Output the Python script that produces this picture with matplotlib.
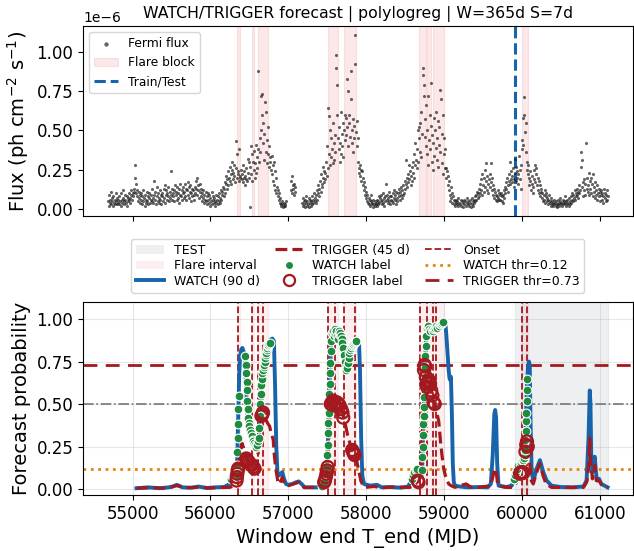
import numpy as np
import matplotlib
matplotlib.use("Agg")
import matplotlib.pyplot as plt
from matplotlib.lines import Line2D
from matplotlib.patches import Patch

# ---- Fermi weekly flux (1e-6 ph cm^-2 s^-1), first bin MJD 54684, 7 d cadence
flux_t0 = 54684
flux_step = 7
nan = np.nan
flux = [
    0.05, 0.02, 0.09, 0.04, 0.06, 0.11, 0.03, 0.07, 0.05, 0.02, 0.08, 0.04, 0.06, 0.03, 0.10, 0.05, 0.07, 0.03, 0.06, 0.04,
    0.08, 0.03, 0.05, 0.10, 0.02, 0.06, 0.04, 0.07, 0.12, 0.05, 0.03, 0.09, 0.06, 0.04, 0.08, 0.02, 0.05, 0.07, 0.10, 0.06,
    0.07, 0.04, 0.09, 0.12, 0.06, 0.10, 0.08, 0.13, 0.11, 0.20, 0.28, 0.16, 0.10, 0.12, 0.08, 0.05, 0.11, 0.07, 0.04, 0.09,
    0.06, 0.10, 0.03, 0.08, 0.05, 0.12, 0.07, 0.02, 0.09, 0.06, 0.04, 0.11, 0.05, 0.08, 0.03, 0.07, 0.10, 0.04, 0.06, 0.09,
    0.05, 0.13, 0.07, 0.04, 0.18, 0.09, 0.06, 0.11, 0.03, 0.08, 0.14, 0.05, 0.10, 0.07, 0.04, 0.12, 0.06, 0.09, 0.03, 0.08,
    0.10, 0.05, 0.13, 0.07, 0.15, 0.04, 0.09, 0.12, 0.06, 0.10, 0.08, 0.14, 0.05, 0.11, 0.07, 0.24, 0.09, 0.13, 0.06, 0.10,
    0.08, 0.12, 0.05, 0.15, 0.09, 0.11, 0.06, 0.14, 0.10, 0.07, 0.13, 0.04, 0.09, 0.16, 0.08, 0.12, 0.06, 0.10, 0.14, 0.07,
    0.11, 0.16, 0.08, 0.13, 0.06, 0.12, 0.17, 0.09, 0.14, 0.07, 0.11, 0.15, 0.05, 0.10, 0.13, 0.08, 0.12, 0.06, 0.09, 0.14,
    0.10, 0.18, 0.13, 0.20, 0.09, 0.15, 0.12, 0.07, 0.11, 0.16, 0.08, 0.13, 0.05, 0.10, 0.07, 0.12, 0.04, 0.09, 0.06, 0.11,
    0.05, 0.08, 0.03, 0.10, 0.06, 0.04, 0.09, 0.02, 0.07, 0.05, 0.11, 0.03, 0.06, 0.08, 0.04, 0.07, 0.02, 0.05, 0.09, 0.04,
    0.06, 0.03, 0.08, 0.05, 0.10, 0.04, 0.07, 0.12, 0.06, 0.09, 0.11, 0.14, 0.08, 0.13, 0.17, 0.10, 0.16, 0.21, 0.13, 0.19,
    0.24, 0.15, 0.20, 0.27, 0.18, 0.22, 0.16, 0.25, 0.30, 0.19, 0.23, 0.21, 0.28, 0.17, 0.43, 0.26, 0.20, 0.35, 0.22, 0.24,
    0.18, 0.38, 0.21, 0.20, 0.25, 0.19, 0.22, 0.17, 0.28, 0.20, 0.24, 0.15, 0.21, 0.19, 0.26, 0.18, 0.32, 0.23, 0.20, 0.30,
    0.27, 0.01, 0.40, 0.22, 0.35, 0.18, 0.30, 0.25, 0.37, 0.20, 0.29, 0.23, 0.41, 0.33, 0.26, 0.38, 0.88, 0.30, 0.45, 0.36,
    0.72, 0.50, 0.60, 0.73, 0.42, 0.55, 0.31, 0.48, 0.68, 0.36, 0.62, 0.44, 0.29, 0.52, 0.35, 0.40, 0.27, 0.33, 0.30, 0.25,
    0.34, 0.22, 0.28, 0.18, 0.30, 0.15, 0.24, 0.12, 0.20, 0.10, 0.14, 0.08, 0.12, 0.06, 0.10, 0.04, 0.07, 0.03, 0.02, 0.05,
    0.03, 0.01, 0.02, 0.04, 0.02, 0.03, 0.05, nan, nan, nan, nan, nan, nan, nan, nan, 0.12, 0.18, 0.10, 0.21, 0.15,
    0.13, 0.16, 0.09, 0.11, 0.14, nan, nan, nan, nan, nan, nan, nan, nan, nan, nan, nan, 0.04, 0.07, 0.02, 0.05,
    0.03, 0.06, 0.01, 0.04, 0.08, 0.02, 0.05, 0.03, 0.07, 0.01, 0.04, 0.06, 0.02, 0.05, 0.03, 0.08, 0.04, 0.06, 0.10, 0.05,
    0.07, 0.04, 0.09, 0.12, 0.06, 0.10, 0.15, 0.08, 0.13, 0.18, 0.11, 0.22, 0.16, 0.14, 0.20, 0.27, 0.17, 0.24, 0.19, 0.23,
    0.30, 0.21, 0.40, 0.26, 0.64, 0.35, 0.59, 0.28, 0.50, 0.33, 0.45, 0.38, 0.29, 0.55, 0.42, 0.31, 0.47, 0.36, 0.98, 0.90,
    0.79, 0.60, 0.45, 0.38, 0.52, 0.30, 0.42, 0.62, 0.35, 0.48, 0.40, 0.55, 0.33, 0.50, 0.60, 0.44, 0.58, 0.47, 0.83, 0.52,
    0.75, 0.40, 0.60, 0.55, 0.46, 0.70, 0.88, 0.50, 0.42, 0.57, 0.36, 0.53, 0.45, 0.92, 1.11, 0.49, 0.40, 0.56, 0.30, 0.45,
    0.26, 0.23, 0.28, 0.21, 0.25, 0.18, 0.24, 0.15, 0.20, 0.12, 0.17, 0.09, 0.14, 0.07, 0.11, 0.05, 0.09, 0.04, 0.07, 0.03,
    0.06, 0.02, 0.05, 0.09, 0.03, 0.04, 0.01, 0.06, 0.03, 0.02, 0.05, 0.03, 0.04, 0.02, 0.06, 0.03, 0.05, 0.08, 0.04, 0.07,
    0.05, 0.09, 0.03, 0.06, 0.10, 0.04, 0.07, 0.02, 0.08, 0.05, 0.16, 0.06, 0.09, 0.04, 0.07, 0.11, 0.05, 0.08, 0.03, 0.06,
    0.08, 0.05, 0.10, 0.04, 0.07, 0.12, 0.06, 0.09, 0.03, 0.11, 0.07, 0.05, 0.10, 0.08, 0.13, 0.06, 0.11, 0.09, 0.14, 0.07,
    0.12, 0.09, 0.15, 0.10, 0.18, 0.13, 0.16, 0.31, 0.20, 0.14, 0.22, 0.17, 0.28, 0.19, 0.24, 0.15, 0.21, 0.27, 0.18, 0.30,
    0.23, 0.35, 0.20, 0.42, 0.28, 0.31, 0.38, 0.26, 0.50, 0.30, 0.45, 0.52, 0.36, 0.55, 0.33, 0.62, 0.48, 0.90, 0.85, 0.79,
    0.72, 0.46, 0.57, 0.40, 0.66, 0.35, 0.50, 0.28, 0.72, 0.44, 0.60, 0.38, 0.53, 0.80, 0.30, 0.47, 0.25, 0.42, 0.58, 0.34,
    0.50, 0.39, 0.62, 0.31, 0.45, 0.27, 0.56, 0.41, 0.52, 0.36, 0.76, 0.70, 0.48, 0.29, 0.60, 0.22, 0.35, 0.45, 0.26, 0.38,
    0.26, 0.20, 0.24, 0.15, 0.21, 0.12, 0.18, 0.09, 0.05, 0.14, 0.07, 0.10, 0.04, 0.08, 0.06, 0.03, 0.05, 0.02, 0.04, 0.06,
    0.03, 0.05, 0.02, 0.07, 0.04, nan, 0.03, 0.06, 0.02, 0.05, nan, 0.04, 0.01, 0.06, 0.03, 0.05, nan, 0.02, 0.04, 0.07,
    0.03, 0.05, 0.02, nan, 0.06, 0.04, 0.01, 0.03, 0.07, 0.05, 0.02, 0.04, 0.06, 0.08, 0.05, 0.09, 0.06, 0.11, 0.07, 0.10,
    0.13, 0.08, 0.16, 0.10, 0.19, 0.12, 0.22, 0.09, 0.15, 0.20, 0.11, 0.25, 0.14, 0.18, 0.29, 0.12, 0.21, 0.16, 0.10, 0.19,
    0.14, 0.22, 0.29, 0.17, 0.12, 0.20, 0.15, 0.09, 0.13, 0.07, 0.11, 0.06, 0.09, 0.05, 0.08, 0.12, 0.07, 0.10, 0.06, 0.09,
    0.06, 0.10, 0.05, 0.08, 0.04, 0.09, 0.12, 0.07, 0.14, 0.10, 0.17, 0.13, 0.20, 0.15, 0.11, 0.18, 0.22, 0.16, 0.30, 0.19,
    0.24, 0.17, 0.21, 0.26, 0.14, 0.19, 0.32, 0.23, 0.27, 0.18, 0.24, 0.20, 0.16, 0.22, 0.34, 0.25, 0.19, 0.13, 0.28, 0.38,
    0.44, 0.41, 0.58, 0.71, 0.60, 0.49, 0.55, 0.36, 0.30, 0.25, 0.22, 0.28, 0.20, 0.15, 0.24, 0.18, 0.12, 0.21, 0.16, 0.10,
    0.14, 0.19, 0.25, 0.17, 0.28, 0.22, 0.26, 0.15, 0.20, 0.12, 0.18, 0.10, 0.15, 0.08, 0.13, 0.11, 0.07, 0.10, 0.05, 0.09,
    0.06, 0.12, 0.04, 0.08, 0.10, 0.05, 0.07, 0.03, 0.06, 0.09, 0.04, 0.05, 0.02, 0.07, 0.03, 0.05, 0.04, 0.02, 0.06, 0.03,
    0.04, 0.02, 0.05, 0.03, 0.01, 0.06, 0.03, 0.04, 0.02, 0.05, 0.07, 0.03, 0.04, 0.02, 0.06, 0.04, 0.03, 0.05, 0.08, 0.04,
    0.02, 0.05, 0.03, 0.06, 0.04, 0.02, 0.07, 0.05, 0.03, 0.08, 0.04, 0.06, 0.10, 0.05, 0.09, 0.07, 0.12, 0.06, 0.10, 0.08,
    0.13, 0.09, 0.11, 0.07, 0.15, 0.10, 0.12, 0.27, 0.36, 0.31, 0.14, 0.08, 0.17, 0.12, 0.19, 0.09, 0.16, 0.42, 0.13, 0.20,
    0.11, 0.15, 0.23, 0.09, 0.18, 0.13, 0.20, 0.10, 0.16, 0.22, 0.08, 0.14, 0.11, 0.17, 0.07, 0.12, 0.09, 0.15, 0.06, 0.10,
    0.13, 0.08, 0.11, 0.05, 0.09, 0.12, 0.06, 0.10, 0.04, 0.08, 0.13, 0.07, 0.10, 0.05, 0.09, 0.12, 0.06, 0.08,
]

# ---- flare blocks / intervals (MJD start, end)
flare_blocks = [(56343, 56373), (56531, 56557), (56608, 56736), (57503, 57635),
                (57712, 57875), (58684, 58769), (58787, 58829), (58855, 59001),
                (60002, 60079)]
onsets = [56348, 56532, 56606, 56670, 57507, 57596, 57721, 57861,
          58693, 58787, 58863, 58893, 60002, 60062]
split_mjd = 59910
test_end = 61105
watch_thr = 0.12
trigger_thr = 0.73

# ---- WATCH (90 d) probability curve
watch_t = [55050, 55200, 55350, 55500, 55568, 55640, 55760, 55848, 55950, 56050, 56175,
           56250, 56270, 56300, 56330, 56340, 56345, 56350, 56355, 56360, 56368, 56380,
           56395, 56410, 56425, 56435, 56442, 56448, 56454, 56460, 56466, 56472, 56480,
           56493, 56510, 56530, 56550, 56570, 56590, 56605, 56619, 56626, 56633, 56640,
           56647, 56654, 56661, 56668, 56675, 56689, 56703, 56717, 56731, 56745, 56759,
           56775, 56795, 56815, 56830, 56845, 56860, 56880, 56900, 56923, 56945, 56970,
           57000, 57050, 57100, 57133, 57170, 57210, 57290, 57360, 57420, 57440, 57460,
           57481, 57498, 57502, 57507, 57511, 57515, 57519, 57524, 57528, 57532, 57537,
           57541, 57545, 57554, 57566, 57580, 57595, 57610, 57625, 57640, 57655, 57670,
           57685, 57700, 57710, 57720, 57730, 57745, 57760, 57775, 57790, 57805, 57820,
           57840, 57873, 57890, 57908, 57920, 57935, 57950, 57971, 58050, 58138, 58200,
           58300, 58450, 58540, 58565, 58590, 58620, 58650, 58670, 58690, 58710, 58718,
           58722, 58726, 58730, 58735, 58739, 58743, 58745, 58748, 58752, 58756, 58760,
           58765, 58769, 58782, 58800, 58830, 58860, 58900, 58940, 58995, 59017, 59030,
           59045, 59059, 59070, 59080, 59088, 59100, 59112, 59125, 59140, 59200, 59300,
           59450, 59560, 59600, 59625, 59645, 59656, 59668, 59682, 59700, 59800, 59870,
           59890, 59912, 59940, 59970, 59997, 60022, 60036, 60040, 60044, 60048, 60052,
           60056, 60060, 60064, 60068, 60080, 60090, 60100, 60110, 60125, 60146, 60189,
           60231, 60274, 60317, 60381, 60500, 60650, 60790, 60830, 60855, 60871, 60880,
           60890, 60905, 60920, 60935, 60950, 60965, 60990, 61020, 61060, 61100]
watch_p = [0.005, 0.010, 0.005, 0.012, 0.025, 0.010, 0.008, 0.015, 0.006, 0.010, 0.012,
           0.030, 0.070, 0.085, 0.065, 0.100, 0.200, 0.300, 0.420, 0.520, 0.650, 0.780,
           0.820, 0.830, 0.810, 0.790, 0.760, 0.700, 0.630, 0.560, 0.500, 0.450, 0.410,
           0.380, 0.340, 0.310, 0.280, 0.260, 0.250, 0.260, 0.300, 0.360, 0.430, 0.500,
           0.560, 0.610, 0.650, 0.680, 0.700, 0.730, 0.770, 0.800, 0.830, 0.850, 0.860,
           0.880, 0.885, 0.870, 0.600, 0.250, 0.100, 0.080, 0.090, 0.100, 0.060, 0.030,
           0.025, 0.030, 0.040, 0.045, 0.030, 0.010, 0.010, 0.010, 0.012, 0.020, 0.040,
           0.090, 0.130, 0.200, 0.260, 0.330, 0.390, 0.450, 0.500, 0.560, 0.620, 0.680,
           0.740, 0.810, 0.870, 0.920, 0.930, 0.900, 0.930, 0.910, 0.880, 0.920, 0.930,
           0.900, 0.860, 0.810, 0.760, 0.720, 0.700, 0.720, 0.770, 0.800, 0.830, 0.850,
           0.860, 0.870, 0.870, 0.860, 0.700, 0.300, 0.080, 0.030, 0.020, 0.025, 0.010,
           0.012, 0.008, 0.015, 0.040, 0.060, 0.100, 0.120, 0.090, 0.070, 0.080, 0.110,
           0.190, 0.250, 0.320, 0.380, 0.430, 0.480, 0.540, 0.600, 0.660, 0.720, 0.780,
           0.840, 0.900, 0.950, 0.960, 0.930, 0.950, 0.960, 0.970, 0.980, 0.975, 0.900,
           0.800, 0.700, 0.650, 0.640, 0.660, 0.450, 0.150, 0.040, 0.020, 0.015, 0.010,
           0.012, 0.010, 0.030, 0.200, 0.440, 0.465, 0.420, 0.150, 0.020, 0.012, 0.020,
           0.050, 0.080, 0.120, 0.150, 0.170, 0.180, 0.200, 0.230, 0.290, 0.340, 0.400,
           0.450, 0.520, 0.580, 0.650, 0.720, 0.750, 0.730, 0.400, 0.100, 0.050, 0.120,
           0.170, 0.100, 0.050, 0.020, 0.012, 0.010, 0.015, 0.050, 0.300, 0.580, 0.500,
           0.200, 0.100, 0.150, 0.190, 0.100, 0.050, 0.060, 0.030, 0.020, 0.010]

# ---- TRIGGER (45 d) probability curve
trig_t = [55050, 55250, 55400, 55568, 55700, 55880, 56000, 56150, 56250, 56300, 56330,
          56340, 56355, 56370, 56390, 56405, 56420, 56440, 56460, 56490, 56530, 56565,
          56590, 56610, 56625, 56640, 56655, 56675, 56690, 56710, 56730, 56759, 56780,
          56806, 56820, 56839, 56867, 56890, 56923, 56950, 57000, 57133, 57200, 57300,
          57400, 57450, 57481, 57505, 57520, 57535, 57545, 57575, 57600, 57640, 57670,
          57695, 57710, 57737, 57760, 57780, 57800, 57830, 57850, 57870, 57890, 57908,
          57930, 57950, 57990, 58100, 58200, 58350, 58560, 58620, 58650, 58670, 58700,
          58720, 58735, 58750, 58766, 58782, 58808, 58830, 58860, 58880, 58900, 58931,
          58950, 58973, 58995, 59016, 59059, 59090, 59140, 59200, 59283, 59350, 59450,
          59600, 59640, 59656, 59670, 59690, 59800, 59880, 59920, 59960, 59990, 60018,
          60035, 60055, 60070, 60085, 60100, 60120, 60145, 60190, 60230, 60270, 60310,
          60380, 60500, 60650, 60790, 60830, 60855, 60871, 60885, 60905, 60935, 60955,
          60990, 61030, 61100]
trig_p = [0.005, 0.008, 0.005, 0.020, 0.008, 0.012, 0.006, 0.010, 0.010, 0.020, 0.040,
          0.070, 0.120, 0.180, 0.240, 0.270, 0.250, 0.200, 0.180, 0.160, 0.140, 0.120,
          0.130, 0.200, 0.300, 0.400, 0.430, 0.450, 0.440, 0.410, 0.390, 0.370, 0.330,
          0.290, 0.200, 0.120, 0.040, 0.030, 0.070, 0.030, 0.020, 0.040, 0.010, 0.010,
          0.010, 0.030, 0.070, 0.130, 0.300, 0.450, 0.500, 0.520, 0.500, 0.500, 0.480,
          0.450, 0.420, 0.370, 0.320, 0.290, 0.250, 0.220, 0.200, 0.180, 0.140, 0.100,
          0.050, 0.030, 0.010, 0.015, 0.008, 0.012, 0.010, 0.020, 0.040, 0.045, 0.080,
          0.300, 0.550, 0.730, 0.680, 0.600, 0.640, 0.600, 0.520, 0.500, 0.460, 0.400,
          0.300, 0.200, 0.120, 0.080, 0.030, 0.020, 0.010, 0.020, 0.030, 0.010, 0.010,
          0.020, 0.100, 0.120, 0.100, 0.020, 0.010, 0.010, 0.030, 0.070, 0.100, 0.100,
          0.150, 0.260, 0.280, 0.250, 0.150, 0.050, 0.030, 0.100, 0.150, 0.080, 0.030,
          0.010, 0.010, 0.010, 0.010, 0.040, 0.120, 0.300, 0.150, 0.060, 0.140, 0.050,
          0.050, 0.020, 0.010]

# ---- WATCH label points (green)
wlab_t = [56265, 56280, 56295, 56310, 56325, 56338, 56342, 56346, 56350, 56354, 56358, 56362,
          56446, 56452, 56458, 56463, 56468, 56473, 56478, 56484, 56490, 56500, 56510, 56520,
          56530, 56540, 56550, 56560, 56570, 56580, 56590, 56600, 56610, 56619, 56626, 56633,
          56640, 56647, 56654, 56661, 56668, 56675, 56682, 56689, 56696, 56703, 56710, 56717,
          56724, 56731, 56738, 56745, 56752, 56759,
          57438, 57460, 57481, 57498, 57502, 57507, 57511, 57515, 57519, 57524, 57528, 57532,
          57537, 57541, 57545, 57554, 57566, 57575, 57585, 57595, 57605, 57615, 57625, 57635,
          57645, 57655, 57665, 57675, 57685, 57695, 57705, 57715, 57725, 57735, 57745, 57755,
          57765, 57775, 57785, 57795, 57805, 57815, 57825, 57835, 57845, 57855, 57865, 57873,
          58590, 58605, 58620, 58635, 58650, 58718, 58722, 58726, 58730, 58735, 58739, 58743,
          58745, 58748, 58752, 58756, 58760, 58765, 58769, 58782, 58795, 58810, 58825, 58840,
          58855, 58870, 58885, 58900, 58915, 58930, 58945, 58960, 58975, 58990,
          59900, 59912, 59925, 59940, 59955, 59970, 59985, 59997, 60010, 60022, 60036, 60040,
          60044, 60048, 60052, 60056, 60060, 60064, 60068]
wlab_p = [0.060, 0.075, 0.085, 0.085, 0.075, 0.080, 0.140, 0.220, 0.300, 0.380, 0.470, 0.550,
          0.780, 0.730, 0.680, 0.630, 0.580, 0.520, 0.470, 0.420, 0.390, 0.370, 0.350, 0.330,
          0.310, 0.290, 0.280, 0.270, 0.260, 0.250, 0.250, 0.260, 0.280, 0.300, 0.360, 0.430,
          0.500, 0.560, 0.610, 0.650, 0.680, 0.700, 0.720, 0.730, 0.750, 0.770, 0.790, 0.800,
          0.820, 0.830, 0.840, 0.850, 0.855, 0.860,
          0.020, 0.040, 0.090, 0.130, 0.200, 0.260, 0.330, 0.390, 0.450, 0.500, 0.560, 0.620,
          0.680, 0.740, 0.810, 0.870, 0.920, 0.930, 0.900, 0.920, 0.940, 0.930, 0.900, 0.880,
          0.910, 0.930, 0.920, 0.900, 0.880, 0.860, 0.830, 0.790, 0.750, 0.720, 0.700, 0.710,
          0.740, 0.770, 0.800, 0.820, 0.830, 0.840, 0.850, 0.855, 0.860, 0.865, 0.870, 0.870,
          0.060, 0.080, 0.100, 0.110, 0.120, 0.110, 0.190, 0.250, 0.320, 0.380, 0.430, 0.480,
          0.540, 0.600, 0.660, 0.720, 0.780, 0.840, 0.900, 0.950, 0.960, 0.940, 0.930, 0.940,
          0.930, 0.940, 0.950, 0.960, 0.950, 0.960, 0.970, 0.970, 0.975, 0.980,
          0.060, 0.080, 0.100, 0.120, 0.140, 0.150, 0.160, 0.170, 0.170, 0.180, 0.200, 0.230,
          0.290, 0.340, 0.400, 0.450, 0.520, 0.580, 0.650]

# ---- TRIGGER label points (red rings)
tlab_t = [56335, 56340, 56345, 56350, 56355, 56460, 56475, 56490, 56510, 56530, 56550,
          56565, 56655, 56665, 56675,
          57460, 57470, 57481, 57490, 57498, 57505, 57545, 57560, 57575, 57590, 57605,
          57625, 57645, 57660, 57680, 57695, 57705, 57820, 57830, 57840, 57850,
          58662, 58672, 58742, 58750, 58758, 58766, 58774, 58782, 58795, 58808, 58820,
          58835, 58850, 58865, 58880,
          59975, 59990, 60005, 60018, 60045, 60055, 60065, 60075]
tlab_p = [0.05, 0.07, 0.09, 0.11, 0.12, 0.18, 0.17, 0.16, 0.15, 0.14, 0.13,
          0.12, 0.43, 0.44, 0.45,
          0.04, 0.05, 0.07, 0.09, 0.11, 0.13, 0.50, 0.51, 0.52, 0.50, 0.49,
          0.51, 0.50, 0.49, 0.47, 0.45, 0.42, 0.23, 0.22, 0.21, 0.20,
          0.05, 0.04, 0.70, 0.73, 0.72, 0.66, 0.62, 0.60, 0.63, 0.64, 0.62,
          0.58, 0.55, 0.51, 0.50,
          0.09, 0.10, 0.10, 0.095, 0.22, 0.26, 0.28, 0.25]

BLUE = '#1764ab'
RED = '#a3191f'
GREEN = '#1e8c3e'
ORANGE = '#e8850c'
PINK = '#f08080'

fig = plt.figure(figsize=(6.34, 5.51), dpi=100)
ax1 = fig.add_axes([0.1309, 0.608, 0.8675, 0.3448])
ax2 = fig.add_axes([0.1309, 0.1016, 0.8675, 0.3503], sharex=ax1)

# ---- top panel
flux_t = flux_t0 + flux_step * np.arange(len(flux))
ax1.scatter(flux_t, np.array(flux) * 1e-6, s=5, c='#222222', alpha=0.7,
            linewidths=0, label='Fermi flux', zorder=3)
for i, (a, b) in enumerate(flare_blocks):
    ax1.axvspan(a, b, color=PINK, alpha=0.18, lw=0.8,
                label='Flare block' if i == 0 else None)
ax1.axvline(split_mjd, color=BLUE, ls='--', lw=2.2, label='Train/Test')
ax1.set_yticks([0, 0.25e-6, 0.5e-6, 0.75e-6, 1.0e-6])
ax1.set_ylabel(r'Flux (ph cm$^{-2}$ s$^{-1}$)', fontsize=14)
ax1.set_title('WATCH/TRIGGER forecast | polylogreg | W=365d S=7d', fontsize=11.3)
ax1.tick_params(labelsize=12)
ax1.tick_params(axis='x', labelbottom=False)
ax1.legend(loc='upper left', fontsize=8.8, markerscale=1.4)

# ---- bottom panel
ax2.axvspan(split_mjd, test_end, color='#9aa5b1', alpha=0.17, lw=0.8, zorder=0)
for a, b in flare_blocks:
    ax2.axvspan(a, b, color=PINK, alpha=0.12, lw=0.8, zorder=0)
ax2.plot(watch_t, watch_p, color=BLUE, lw=2.8, zorder=3)
ax2.plot(trig_t, trig_p, color=RED, lw=2.3, ls='--', zorder=3.5)
ax2.scatter(wlab_t, wlab_p, s=40, c=GREEN, edgecolors='white', linewidths=0.8, zorder=4)
ax2.scatter(tlab_t, tlab_p, s=75, facecolors='none', edgecolors=RED, linewidths=1.6, zorder=5)
for x in onsets:
    ax2.axvline(x, color=RED, ls='--', lw=1.3, zorder=2)
ax2.axhline(watch_thr, color=ORANGE, ls=':', lw=2, zorder=2)
ax2.axhline(trigger_thr, color=RED, ls=(0, (5, 3)), lw=2, zorder=2)
ax2.axhline(0.5, color='#777777', ls='-.', lw=1.2, zorder=2)
ax2.set_ylim(-0.035, 1.1)
ax2.set_yticks([0, 0.25, 0.5, 0.75, 1.0])
ax2.grid(alpha=0.3)
ax2.tick_params(labelsize=12)
ax2.set_xlabel('Window end T_end (MJD)', fontsize=14)
ax2.set_ylabel('Forecast probability', fontsize=14)

handles = [
    Patch(facecolor='#9aa5b1', alpha=0.17, label='TEST'),
    Patch(facecolor=PINK, alpha=0.12, label='Flare interval'),
    Line2D([], [], color=BLUE, lw=2.8, label='WATCH (90 d)'),
    Line2D([], [], color=RED, lw=2.3, ls='--', label='TRIGGER (45 d)'),
    Line2D([], [], ls='none', marker='o', ms=6, mfc=GREEN, mec='white', label='WATCH label'),
    Line2D([], [], ls='none', marker='o', ms=8, mfc='none', mec=RED, mew=1.6, label='TRIGGER label'),
    Line2D([], [], color=RED, ls='--', lw=1.3, label='Onset'),
    Line2D([], [], color=ORANGE, ls=':', lw=2, label=f'WATCH thr={watch_thr:.2f}'),
    Line2D([], [], color=RED, ls=(0, (5, 3)), lw=2, label=f'TRIGGER thr={trigger_thr:.2f}'),
]
ax2.legend(handles=handles, ncol=3, fontsize=9, loc='lower center',
           bbox_to_anchor=(0.5, 1.015), handlelength=2.2, columnspacing=1.2,
           labelspacing=0.2)

fig.savefig('out.png', dpi=100)
